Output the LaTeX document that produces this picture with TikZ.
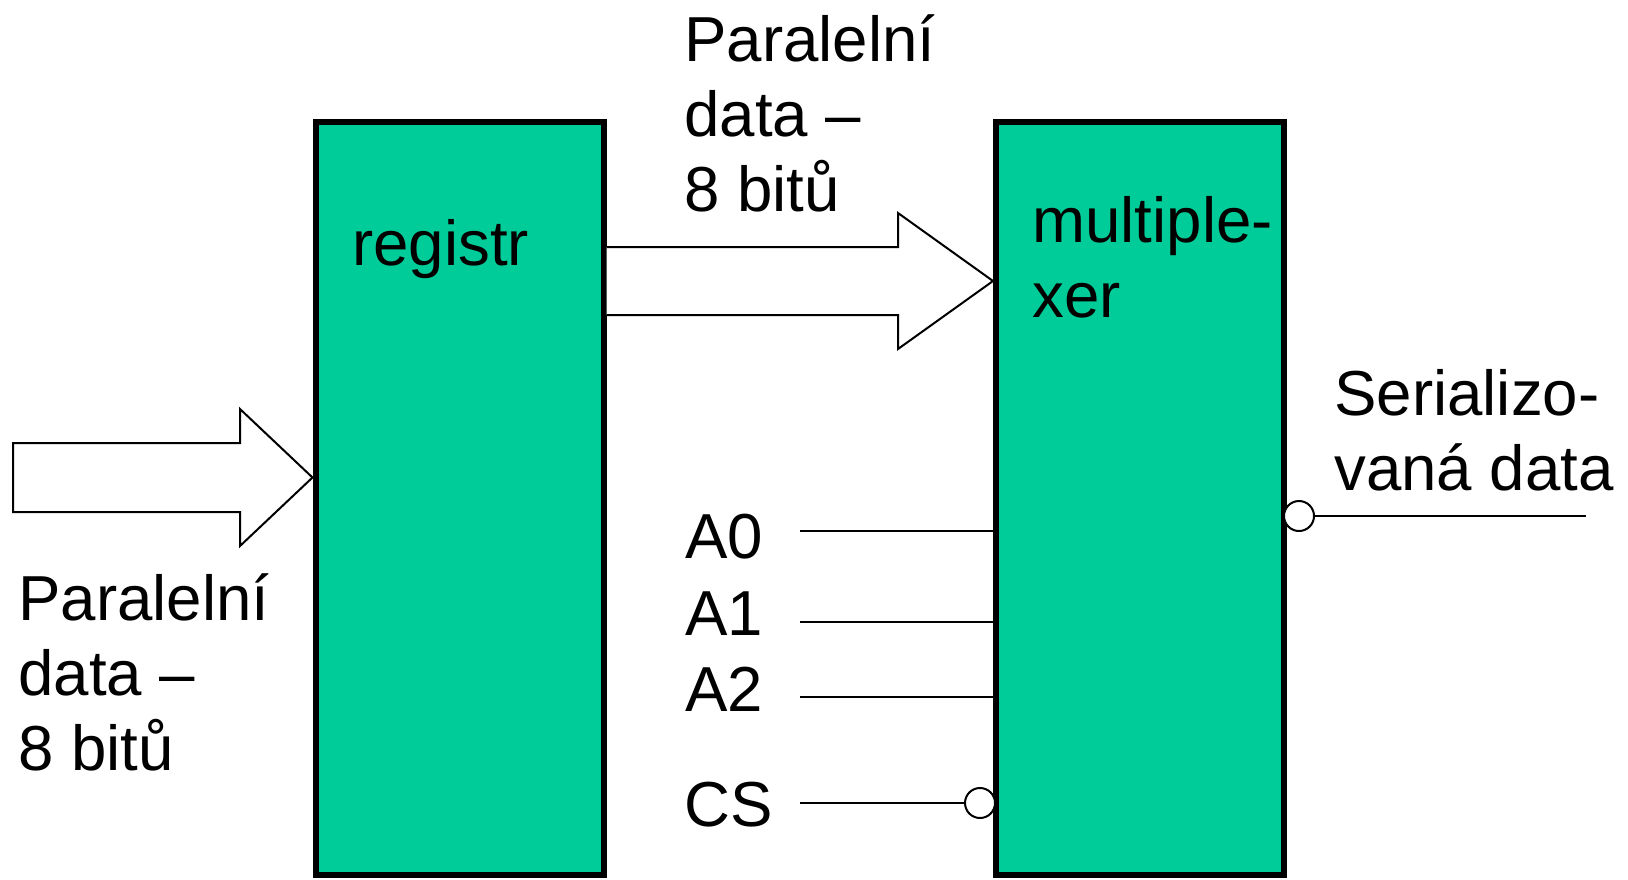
\documentclass[tikz,border=0pt]{standalone}
\usepackage{fontspec}
\setmainfont{Liberation Sans}
\usepackage{xcolor}
\usetikzlibrary{calc}
\definecolor{boxgreen}{RGB}{0,204,153}

\begin{document}
\begin{tikzpicture}[x=0.5pt, y=-0.5pt,
    block/.style={draw, line width=3pt, fill=boxgreen, inner sep=0pt, minimum width=144pt, minimum height=376.5pt},
    lbl/.style={anchor=base west, inner sep=0pt, align=left, font=\fontsize{31.8}{37.5}\selectfont},
    bus/.style={draw, line width=1pt, fill=white, line join=miter},
    wire/.style={line width=1pt},
    inv/.style={circle, draw, line width=1pt, fill=white, inner sep=0pt, minimum size=15pt}]
    \useasboundingbox (0,0) rectangle (1628,879);

    % Register and multiplexer
    \node[block] (reg) at (459.5,498.5) {};
    \node[block] (mux) at (1140,498.5) {};
    \node[lbl] (regtxt) at (352,265) {registr};
    \node[lbl] (muxtxt) at (1032,317) {multiple-\\xer};

    % Parallel input
    \coordinate (datain) at (13,477.5);
    \draw[bus] (datain |- 0,443) -- (240,443) -- (240,409) -- (reg.west |- datain)
        -- (240,546) -- (240,512) -- (datain |- 0,512) -- cycle;
    \node[lbl] (intxt) at (18,770) {Paralelní\\data –\\8 bitů};

    % Parallel data to the multiplexer
    \path[bus] (reg.east |- 0,247) -- (898,247) -- (898,213) -- (mux.west |- 0,281)
        -- (898,349) -- (898,315) -- (reg.east |- 0,315);
    \node[lbl] (bustxt) at (684,211) {Paralelní\\data –\\8 bitů};

    % Address inputs
    \foreach \lab/\ly/\ty in {A0/531/558, A1/622/635, A2/697/711} {
        \node[lbl] (lab\lab) at (685,\ty) {\lab};
        \coordinate (in\lab) at (800,\ly);
        \draw[wire] (in\lab) -- (in\lab -| mux.west);
    }

    % Chip select
    \node[lbl] (labCS) at (684,826) {CS};
    \coordinate (inCS) at (800,803);
    \node[inv] (csinv) at (980,803) {};
    \draw[wire] (inCS) -- (csinv);

    % Serial output
    \node[inv] (serinv) at (1299,516) {};
    \coordinate (serout) at (1586,516);
    \draw[wire] (serinv) -- (serout);
    \node[lbl] (sertxt) at (1334,490) {Serializo-\\vaná data};
\end{tikzpicture}
\end{document}
